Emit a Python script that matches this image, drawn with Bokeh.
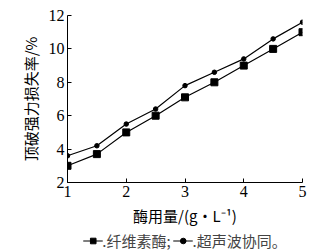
from bokeh.plotting import figure
from bokeh.layouts import column
from bokeh.models import Legend, LegendItem, Range1d, FixedTicker
from bokeh.embed import file_html
from bokeh.resources import INLINE

dose = [1, 1.5, 2, 2.5, 3, 3.5, 4, 4.5, 5]
cellulase = [3.0, 3.7, 5.0, 6.0, 7.1, 8.0, 9.0, 10.0, 11.0]
ultrasonic = [3.6, 4.2, 5.5, 6.4, 7.8, 8.6, 9.4, 10.6, 11.6]
x_ticks = [1, 2, 3, 4, 5]
y_ticks = [2, 4, 6, 8, 10, 12]
labels = [".纤维素酶;", ".超声波协同。"]

p = figure(width=335, height=228, output_backend="svg", toolbar_location=None,
           x_range=Range1d(1, 5), y_range=Range1d(2, 12),
           min_border_left=67, min_border_right=33, min_border_top=15, min_border_bottom=42)
p.outline_line_color = None
p.grid.visible = False
p.background_fill_color = "white"

serif = "Liberation Serif"
cjk = "Noto Sans CJK SC"
for ax in (p.xaxis, p.yaxis):
    ax.major_tick_in = 4
    ax.major_tick_out = 0
    ax.minor_tick_line_color = None
    ax.axis_line_color = "black"
    ax.major_tick_line_color = "black"
    ax.major_label_text_font = serif
    ax.major_label_text_font_size = "16px"
    ax.major_label_text_color = "black"
    ax.axis_label_text_font = cjk
    ax.axis_label_text_font_size = "15px"
    ax.axis_label_text_font_style = "normal"
    ax.axis_label_text_color = "black"
p.xaxis.ticker = FixedTicker(ticks=x_ticks)
p.yaxis.ticker = FixedTicker(ticks=y_ticks)
p.xaxis.major_label_standoff = 3
p.yaxis.major_label_standoff = 3
p.xaxis.axis_label = "酶用量/(g·L⁻¹)"
p.yaxis.axis_label = "顶破强力损失率/%"
p.xaxis.axis_label_standoff = 5
p.yaxis.axis_label_standoff = 5

p.line(dose, cellulase, line_color="black", line_width=1.2)
p.scatter(dose, cellulase, marker="square", size=7, color="black")
p.line(dose, ultrasonic, line_color="black", line_width=1.2)
p.scatter(dose, ultrasonic, marker="circle", size=4.5, color="black")

# legend strip below the chart (renderers hold no visible data)
nan = float("nan")
q = figure(width=335, height=24, output_backend="svg", toolbar_location=None,
           x_range=Range1d(0, 1), y_range=Range1d(0, 1),
           min_border=0)
q.axis.visible = False
q.grid.visible = False
q.outline_line_color = None
a1 = q.line([nan], [nan], line_color="black", line_width=1.2)
b1 = q.scatter([nan], [nan], marker="square", size=6, color="black")
a2 = q.line([nan], [nan], line_color="black", line_width=1.2)
b2 = q.scatter([nan], [nan], marker="circle", size=4, color="black")
legend = Legend(items=[LegendItem(label=labels[0], renderers=[a1, b1]),
                       LegendItem(label=labels[1], renderers=[a2, b2])],
                orientation="horizontal", location="center",
                label_text_font=cjk, label_text_font_size="15px",
                glyph_width=20, glyph_height=14, label_standoff=0, spacing=2,
                padding=0, margin=0, border_line_color=None, background_fill_alpha=0)
q.add_layout(legend, "center")

layout = column(p, q, spacing=0)
open("out.html", "w").write(file_html(layout, INLINE))
